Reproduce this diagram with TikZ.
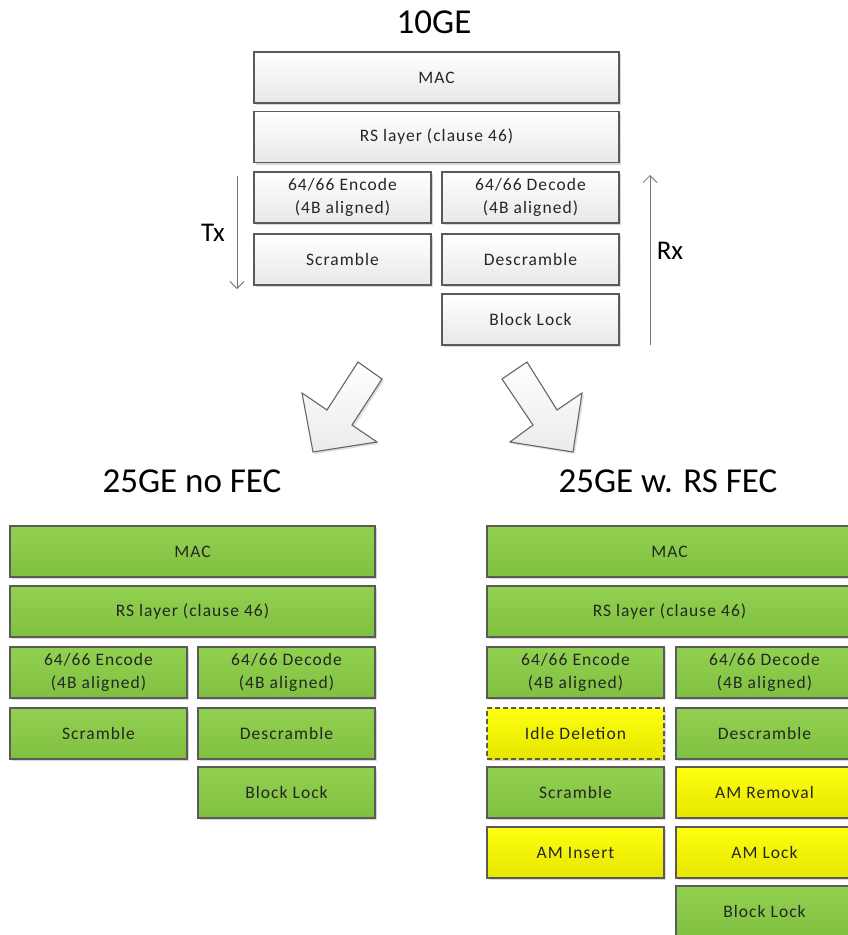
\documentclass[tikz,border=0pt]{standalone}
\usepackage{fontspec}
\setmainfont{Carlito}
\newfontfamily\boxfont[LetterSpace=6]{Carlito}
\usetikzlibrary{shadows,arrows.meta}
\definecolor{bord}{HTML}{5A5A5A}
\definecolor{grntop}{HTML}{92D050}
\definecolor{grnbot}{HTML}{80C040}
\definecolor{yeltop}{HTML}{FFFF10}
\definecolor{yelbot}{HTML}{E6E600}
\tikzset{
  x=1pt, y=-1pt,
  blk/.style={draw=bord, line width=1.1pt, inner sep=0pt, align=center,
    font=\boxfont\fontsize{17.5}{23}\selectfont, text=black!85,
    drop shadow={shadow xshift=2pt, shadow yshift=-2pt, opacity=0.25, fill=black!60}},
  wide/.style={blk, minimum width=365pt, minimum height=51pt},
  half/.style={blk, minimum width=177pt, minimum height=51pt},
  grey/.style={top color=white, bottom color=black!9},
  green/.style={top color=grntop, bottom color=grnbot},
  yellow/.style={top color=yeltop, bottom color=yelbot},
  title/.style={font=\fontsize{35}{40}\selectfont},
  dirlbl/.style={font=\fontsize{27}{30}\selectfont},
  flow/.style={draw=black!55, line width=0.8pt, -{Straight Barb[length=7pt,width=14pt]}},
  bigarrow/.style={draw=black!60, line width=1.1pt, top color=white, bottom color=black!8,
    drop shadow={shadow xshift=2pt, shadow yshift=-2pt, opacity=0.2, fill=black!60}}
}
\begin{document}
\begin{tikzpicture}
\clip (0,0) rectangle (848,935);
\fill[white] (0,0) rectangle (848,935);
% ---------- 10GE ----------
\node[title] (t10) at (434,22) {10GE};
\node[wide,grey] (aMAC) at (436.5,77.5) {MAC};
\node[wide,grey] (aRS) at (436.5,137) {RS layer (clause 46)};
\node[half,grey] (aEnc) at (342.5,197.5) {64/66 Encode\\(4B aligned)};
\node[half,grey] (aDec) at (530.5,197.5) {64/66 Decode\\(4B aligned)};
\node[half,grey] (aScr) at (342.5,259.5) {Scramble};
\node[half,grey] (aDes) at (530.5,259.5) {Descramble};
\node[half,grey] (aBL) at (530.5,319.5) {Block Lock};
\coordinate (txs) at (237,176);
\coordinate (txe) at (237,289);
\coordinate (rxs) at (650,345);
\coordinate (rxe) at (650,175);
\draw[flow] (txs) -- (txe);
\draw[flow] (rxs) -- (rxe);
\node[dirlbl] (tx) at (213,233) {Tx};
\node[dirlbl] (rx) at (670,251) {Rx};
% ---------- big arrows ----------
\draw[bigarrow] (358,362) -- (382,379) -- (352,425) -- (377,442) -- (313,452) -- (302,393) -- (327,410) -- cycle;
\draw[bigarrow] (527,362) -- (502,379) -- (533,425) -- (510,442) -- (573,452) -- (582,393) -- (557,410) -- cycle;
% ---------- 25GE no FEC ----------
\node[title] (t25a) at (192,481) {25GE no FEC};
\node[wide,green] (bMAC) at (192.5,551.5) {MAC};
\node[wide,green] (bRS) at (192.5,611.5) {RS layer (clause 46)};
\node[half,green] (bEnc) at (98.5,672.5) {64/66 Encode\\(4B aligned)};
\node[half,green] (bDec) at (286.5,672.5) {64/66 Decode\\(4B aligned)};
\node[half,green] (bScr) at (98.5,733.5) {Scramble};
\node[half,green] (bDes) at (286.5,733.5) {Descramble};
\node[half,green] (bBL) at (286.5,792.5) {Block Lock};
% ---------- 25GE w. RS FEC ----------
\node[title] (t25b) at (668,481) {25GE w. RS FEC};
\node[wide,green] (cMAC) at (669.5,551.5) {MAC};
\node[wide,green] (cRS) at (669.5,611.5) {RS layer (clause 46)};
\node[half,green] (cEnc) at (575.5,672.5) {64/66 Encode\\(4B aligned)};
\node[half,green] (cDec) at (764.5,672.5) {64/66 Decode\\(4B aligned)};
\node[half,yellow,dashed,dash pattern=on 5pt off 3pt] (cIdle) at (575.5,733.5) {Idle Deletion};
\node[half,green] (cDes) at (764.5,733.5) {Descramble};
\node[half,green] (cScr) at (575.5,792.5) {Scramble};
\node[half,yellow] (cAMR) at (764.5,792.5) {AM Removal};
\node[half,yellow] (cAMI) at (575.5,852.5) {AM Insert};
\node[half,yellow] (cAML) at (764.5,852.5) {AM Lock};
\node[half,green] (cBL) at (764.5,911.5) {Block Lock};
\end{tikzpicture}
\end{document}
